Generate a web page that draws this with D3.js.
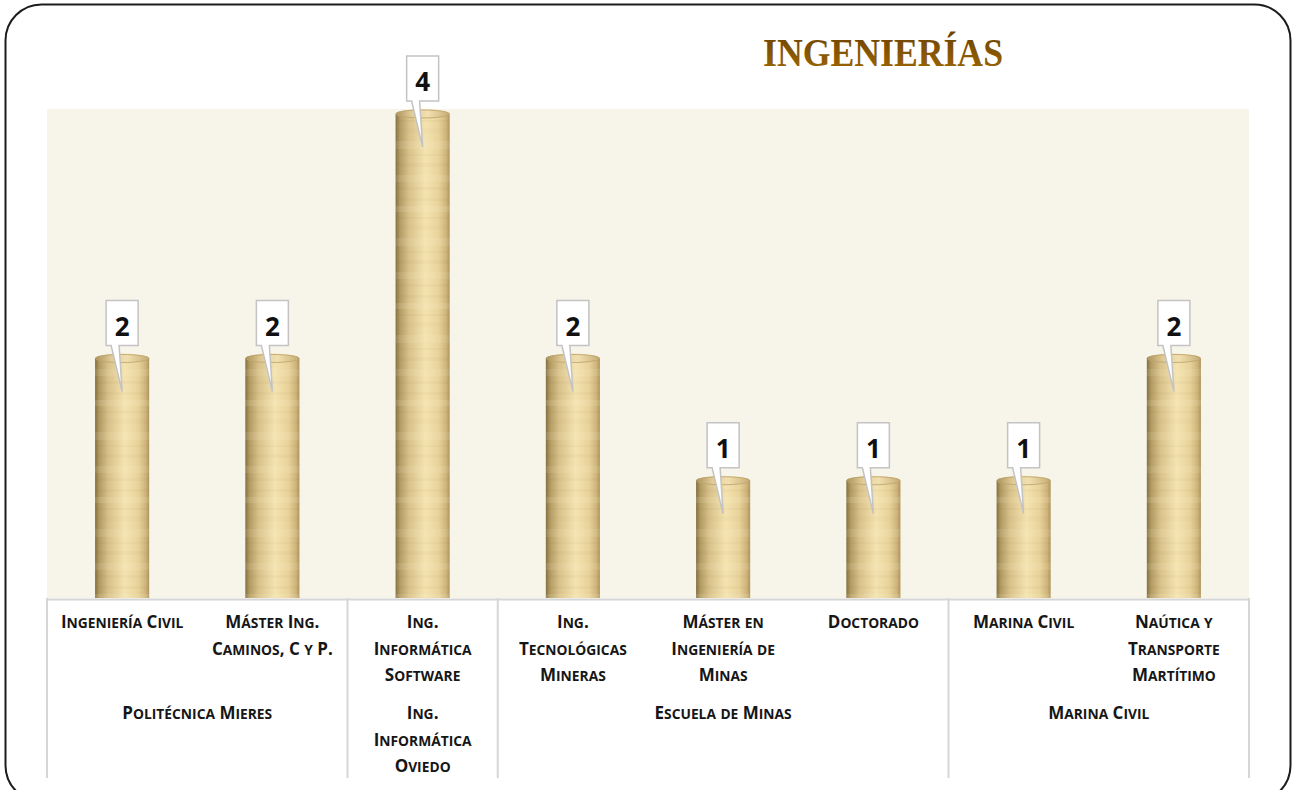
<!DOCTYPE html>
<html>
<head>
<meta charset="utf-8">
<script src="https://cdn.jsdelivr.net/npm/d3@7"></script>
<style>
  html, body { margin: 0; padding: 0; background: #fff; }
  svg { display: block; }
</style>
</head>
<body>
<svg id="chart" width="1293" height="790"></svg>
<script>
// data
var catLines = [
  ['Ingeniería Civil'],
  ['Máster Ing.', 'Caminos, C y P.'],
  ['Ing.', 'Informática', 'Software'],
  ['Ing.', 'Tecnológicas', 'Mineras'],
  ['Máster en', 'Ingeniería de', 'Minas'],
  ['Doctorado'],
  ['Marina Civil'],
  ['Naútica y', 'Transporte', 'Martítimo']
];
var values = [2, 2, 4, 2, 1, 1, 1, 2];
var groupLines = [
  ['Politécnica Mieres'],
  ['Ing.', 'Informática', 'Oviedo'],
  ['Escuela de Minas'],
  ['Marina Civil']
];
var groupSizes = [2, 1, 3, 2];
var title = 'INGENIERÍAS';

var svg = d3.select('#chart');
var margin = { top: 109, left: 47, right: 44, bottom: 192 };
var plotRight = 1293 - margin.right;
var plotBottom = 790 - margin.bottom;   // 598

var xScale = d3.scaleBand()
  .domain(d3.range(values.length))
  .range([margin.left, plotRight])
  .paddingInner(0.64)
  .paddingOuter(0.32);
var yScale = d3.scaleLinear()
  .domain([0, 4])
  .range([plotBottom, margin.top]);

var step = xScale.step();
var bw = xScale.bandwidth();
var half = (step - bw) / 2;

// defs: gradients and texture
var defs = svg.append('defs');
var grad = defs.append('linearGradient').attr('id', 'barGrad')
  .attr('x1', 0).attr('x2', 1).attr('y1', 0).attr('y2', 0);
[[0, '#84703f'], [0.08, '#b39b64'], [0.25, '#d9c28b'], [0.55, '#f4e3b0'], [0.8, '#e8d29a'], [0.94, '#cdb379'], [1, '#ad945d']]
  .forEach(function (s) { grad.append('stop').attr('offset', s[0]).attr('stop-color', s[1]); });

var capGrad = defs.append('linearGradient').attr('id', 'capGrad')
  .attr('x1', 0).attr('x2', 1).attr('y1', 0).attr('y2', 0);
[[0, '#b0965f'], [0.3, '#e2cd98'], [0.6, '#f1e0b0'], [1, '#c6ac74']]
  .forEach(function (s) { capGrad.append('stop').attr('offset', s[0]).attr('stop-color', s[1]); });

var titleGrad = defs.append('linearGradient').attr('id', 'titleGrad')
  .attr('x1', 0).attr('x2', 0).attr('y1', 0).attr('y2', 1);
titleGrad.append('stop').attr('offset', 0).attr('stop-color', '#6a4000');
titleGrad.append('stop').attr('offset', 1).attr('stop-color', '#a06a04');

// soft grain, irregular so it doesn't look like coins
var wood = defs.append('pattern').attr('id', 'wood')
  .attr('patternUnits', 'userSpaceOnUse')
  .attr('width', 400).attr('height', 97);
[[4, 3, '#6e5220', 0.035], [12, 6, '#fff6d8', 0.12], [23, 2, '#6e5220', 0.04], [31, 5, '#6e5220', 0.025],
 [44, 8, '#fff6d8', 0.1], [57, 2, '#6e5220', 0.035], [66, 4, '#6e5220', 0.03], [78, 7, '#fff6d8', 0.1], [90, 3, '#6e5220', 0.03]]
  .forEach(function (s) {
    wood.append('rect').attr('x', 0).attr('y', s[0]).attr('width', 400).attr('height', s[1])
      .attr('fill', s[2]).attr('opacity', s[3]);
  });

// outer frame
svg.append('rect')
  .attr('x', 5.5).attr('y', 4.5)
  .attr('width', 1285).attr('height', 797)
  .attr('rx', 36).attr('ry', 36)
  .attr('fill', '#fff')
  .attr('stroke', '#1c1c1c')
  .attr('stroke-width', 2);

// plot background
svg.append('rect')
  .attr('x', margin.left).attr('y', margin.top)
  .attr('width', plotRight - margin.left)
  .attr('height', plotBottom - margin.top)
  .attr('fill', '#f7f5ea');

// title
svg.append('text')
  .attr('x', 883).attr('y', 66)
  .attr('text-anchor', 'middle')
  .attr('textLength', 240)
  .attr('lengthAdjust', 'spacingAndGlyphs')
  .style('font-family', '"Liberation Serif", "DejaVu Serif", serif')
  .style('font-weight', 'bold')
  .style('font-size', '40px')
  .attr('fill', 'url(#titleGrad)')
  .text(title);

// category / group separators
var bounds = [0];
groupSizes.forEach(function (n, i) { bounds.push(bounds[i] + n); });
function sepX(b) {
  return b < values.length ? xScale(b) - half : xScale(values.length - 1) + bw + half;
}
svg.selectAll('.sep')
  .data(bounds)
  .enter()
  .append('line')
  .attr('x1', sepX)
  .attr('x2', sepX)
  .attr('y1', plotBottom)
  .attr('y2', 778)
  .attr('stroke', '#d6d6d6')
  .attr('stroke-width', 2);

// bars (cylinders)
var bars = svg.append('g');
function bodyPath(d, i) {
  var x0 = xScale(i), x1 = x0 + bw, top = yScale(d) + 5;
  return 'M' + x0 + ',' + plotBottom + 'L' + x0 + ',' + top +
    'A' + (bw / 2) + ',5 0 0 1 ' + x1 + ',' + top +
    'L' + x1 + ',' + plotBottom + 'Z';
}
bars.selectAll('.body')
  .data(values)
  .enter()
  .append('path')
  .attr('d', bodyPath)
  .attr('fill', 'url(#barGrad)');
bars.selectAll('.tex')
  .data(values)
  .enter()
  .append('path')
  .attr('d', bodyPath)
  .attr('fill', 'url(#wood)');
bars.selectAll('.cap')
  .data(values)
  .enter()
  .append('ellipse')
  .attr('cx', function (d, i) { return xScale(i) + bw / 2; })
  .attr('cy', function (d) { return yScale(d) + 5; })
  .attr('rx', bw / 2 - 0.5)
  .attr('ry', 4)
  .attr('fill', 'url(#capGrad)')
  .attr('stroke', '#bfa56f')
  .attr('stroke-width', 1)
  .attr('opacity', 0.85);

// x axis baseline
svg.append('g')
  .attr('transform', 'translate(0,' + (plotBottom + 1) + ')')
  .call(d3.axisBottom(xScale).tickSize(0).tickFormat(''))
  .call(function (g) {
    g.select('.domain').attr('stroke', '#d6d6d6').attr('stroke-width', 2);
  });

// value callouts
var callouts = svg.append('g');
callouts.selectAll('.box')
  .data(values)
  .enter()
  .append('path')
  .attr('d', function (d, i) {
    var cx = xScale(i) + bw / 2, bb = yScale(d) - 8, bt = bb - 45, tip = yScale(d) + 38;
    return 'M' + (cx - 16) + ',' + bt + 'H' + (cx + 16) + 'V' + bb + 'H' + (cx - 3) +
      'L' + cx + ',' + tip + 'L' + (cx - 11) + ',' + bb + 'H' + (cx - 16) + 'Z';
  })
  .attr('fill', '#fff')
  .attr('stroke', '#c3c3c3')
  .attr('stroke-width', 1.5);
callouts.selectAll('.val')
  .data(values)
  .enter()
  .append('text')
  .attr('x', function (d, i) { return xScale(i) + bw / 2; })
  .attr('y', function (d) { return yScale(d) - 18; })
  .attr('text-anchor', 'middle')
  .style('font-family', '"Open Sans", "Liberation Sans", sans-serif')
  .style('font-weight', 'bold')
  .style('font-size', '26px')
  .attr('fill', '#111')
  .text(function (d) { return d; });

// small caps text helper
function smallCaps(sel, str) {
  var runs = [];
  str.split('').forEach(function (ch) {
    var low = ch !== ch.toUpperCase();
    if (runs.length && runs[runs.length - 1].low === low) runs[runs.length - 1].s += ch;
    else runs.push({ low: low, s: ch });
  });
  runs.forEach(function (r) {
    sel.append('tspan')
      .style('font-size', r.low ? '13.8px' : '17px')
      .text(r.low ? r.s.toUpperCase() : r.s);
  });
}

var labelFont = '"Open Sans", "Liberation Sans", sans-serif';
var lineH = 26.5;

// category labels
catLines.forEach(function (lines, i) {
  lines.forEach(function (ln, j) {
    var t = svg.append('text')
      .attr('x', xScale(i) + bw / 2)
      .attr('y', 628 + j * lineH)
      .attr('text-anchor', 'middle')
      .style('font-family', labelFont)
      .style('font-weight', 'bold')
      .attr('fill', '#161616');
    smallCaps(t, ln);
  });
});

// group labels
groupLines.forEach(function (lines, gi) {
  var a = bounds[gi], b = bounds[gi + 1] - 1;
  var cx = (xScale(a) + xScale(b) + bw) / 2;
  lines.forEach(function (ln, j) {
    var t = svg.append('text')
      .attr('x', cx)
      .attr('y', 719 + j * lineH)
      .attr('text-anchor', 'middle')
      .style('font-family', labelFont)
      .style('font-weight', 'bold')
      .attr('fill', '#161616');
    smallCaps(t, ln);
  });
});
</script>
</body>
</html>
